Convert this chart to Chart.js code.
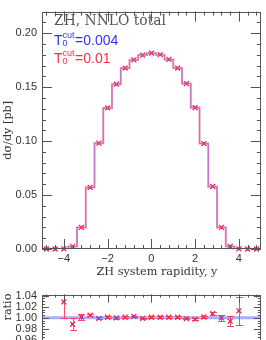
<!DOCTYPE html>
<html>
<head>
<meta charset="utf-8">
<script src="https://cdn.jsdelivr.net/npm/chart.js@4.4.1/dist/chart.umd.min.js"></script>
<style>
  html, body { margin: 0; padding: 0; background: #fff; width: 266px; height: 340px; overflow: hidden; }
  canvas { position: absolute; left: 0; }
  #main { top: 0; }
  #ratio { top: 283px; }
</style>
</head>
<body>
<canvas id="main" width="266" height="284"></canvas>
<canvas id="ratio" width="266" height="90"></canvas>
<script>
// bin centres in y (bin width 0.4)
const yCenters = [-4.8, -4.4, -4.0, -3.6, -3.2, -2.8, -2.4, -2.0, -1.6, -1.2, -0.8, -0.4, 0.0,
                  0.4, 0.8, 1.2, 1.6, 2.0, 2.4, 2.8, 3.2, 3.6, 4.0, 4.4, 4.8];

// dsigma/dy [pb], Tcut = 0.004 (blue) and Tcut = 0.01 (red)
const xsT004 = [0, 0, 0.0002, 0.0023, 0.0200, 0.0569, 0.0982, 0.1306, 0.1527, 0.1675, 0.1749, 0.1799, 0.1814,
                0.1799, 0.1755, 0.1675, 0.1534, 0.1312, 0.0976, 0.0575, 0.0200, 0.0023, 0.0002, 0, 0];
const xsT01  = [0, 0, 0.0002, 0.0024, 0.0200, 0.0572, 0.0981, 0.1307, 0.1527, 0.1677, 0.1753, 0.1797, 0.1816,
                0.1801, 0.1757, 0.1677, 0.1532, 0.1309, 0.0977, 0.0579, 0.0200, 0.0023, 0.0002, 0, 0];

// ratio Tcut=0.01 / Tcut=0.004 and its error
const ratioVals = [null, null, 1.0287, 0.9885, 1.0015, 1.005, 0.999, 1.001, 1.000, 1.001, 1.0025, 0.999, 1.001,
                   1.001, 1.001, 1.001, 0.9985, 0.9975, 1.0015, 1.0075, 1.000, 0.994, 1.0127, null, null];
const ratioErr  = [0, 0, 0.029, 0.011, 0.005, 0.0022, 0.0018, 0.0015, 0.0015, 0.0015, 0.0015, 0.0015, 0.0015,
                   0.0015, 0.0015, 0.0015, 0.0015, 0.0015, 0.0018, 0.003, 0.0055, 0.0088, 0.025, 0, 0];

// tick labels
const xTickVals = [-4, -2, 0, 2, 4];
const yTickVals = [0, 0.05, 0.10, 0.15, 0.20];
const ratioTickVals = [0.96, 0.98, 1.00, 1.02, 1.04];

const FRAME = '#555';
const TICKFONT = { family: 'Liberation Sans', size: 11 };

function range(a, b, step) {
  const out = [];
  for (let v = a; v <= b + 1e-9; v += step) out.push(Math.round(v * 1e4) / 1e4);
  return out;
}

function histPoints(vals) {
  const hw = (yCenters[1] - yCenters[0]) / 2;
  const pts = yCenters.map((c, i) => ({ x: c - hw, y: vals[i] }));
  pts.push({ x: yCenters[yCenters.length - 1] + hw, y: vals[vals.length - 1] });
  return pts;
}

// frame + inward tick marks, drawn through the chart's own scales
function framePlugin(cfg) {
  return {
    id: 'frame',
    afterDatasetsDraw(chart) {
      const { ctx, chartArea: a, scales: { x, y } } = chart;
      ctx.save();
      ctx.strokeStyle = FRAME;
      ctx.lineWidth = 1;
      ctx.beginPath();
      const vx = (v, len) => {
        const p = Math.round(x.getPixelForValue(v)) + 0.5;
        ctx.moveTo(p, a.bottom); ctx.lineTo(p, a.bottom - len);
        ctx.moveTo(p, a.top); ctx.lineTo(p, a.top + len);
      };
      const vy = (v, len) => {
        const p = Math.round(y.getPixelForValue(v)) + 0.5;
        ctx.moveTo(a.left, p); ctx.lineTo(a.left + len, p);
        ctx.moveTo(a.right, p); ctx.lineTo(a.right - len, p);
      };
      cfg.xMinor.forEach(v => vx(v, cfg.minLen));
      cfg.xMajor.forEach(v => vx(v, cfg.majLenX));
      cfg.yMinor.forEach(v => vy(v, cfg.minLen));
      cfg.yMajor.forEach(v => vy(v, cfg.majLenY));
      ctx.stroke();
      ctx.strokeRect(Math.round(a.left) + 0.5, Math.round(a.top) + 0.5,
                     Math.round(a.right - a.left) - 1, Math.round(a.bottom - a.top) - 1);
      ctx.restore();
    }
  };
}

function fitSize(ctx, text, family, width) {
  ctx.font = '20px "' + family + '"';
  return 20 * width / ctx.measureText(text).width;
}

function drawTcut(ctx, x, y, color, val) {
  ctx.fillStyle = color;
  ctx.textAlign = 'left';
  ctx.textBaseline = 'alphabetic';
  ctx.font = '14px "Liberation Sans"';
  ctx.fillText('T', x, y);
  const w = ctx.measureText('T').width;
  ctx.font = '9px "Liberation Sans"';
  ctx.fillText('cut', x + w, y - 6.5);
  ctx.fillText('0', x + w, y + 1);
  const w2 = ctx.measureText('cut').width;
  ctx.font = '14px "Liberation Sans"';
  ctx.fillText('=' + val, x + w + w2 + 0.5, y);
}

const textPlugin = {
  id: 'texts',
  afterDraw(chart) {
    const { ctx, chartArea: a } = chart;
    ctx.save();
    // title
    ctx.fillStyle = '#555';
    ctx.textAlign = 'left';
    ctx.textBaseline = 'alphabetic';
    const t = 'ZH, NNLO total';
    ctx.font = fitSize(ctx, t, 'DejaVu Serif', 112).toFixed(2) + 'px "DejaVu Serif"';
    ctx.fillText(t, 54, 25);
    // legend
    drawTcut(ctx, 54, 44.5, '#3030ff', '0.004');
    drawTcut(ctx, 54, 62.5, '#ff3040', '0.01');
    // x title
    ctx.fillStyle = '#333';
    ctx.textAlign = 'center';
    const xt = 'ZH system rapidity, y';
    ctx.font = fitSize(ctx, xt, 'DejaVu Serif', 121).toFixed(2) + 'px "DejaVu Serif"';
    ctx.fillText(xt, 157, 275);
    // y title
    const yt = 'd\u03c3/dy [pb]';
    ctx.translate(11, (a.top + a.bottom) / 2);
    ctx.rotate(-Math.PI / 2);
    ctx.fillText(yt, 0, 0);
    ctx.restore();
  }
};

const ratioTextPlugin = {
  id: 'rtexts',
  afterDraw(chart) {
    const { ctx } = chart;
    ctx.save();
    ctx.fillStyle = '#333';
    ctx.textAlign = 'center';
    ctx.textBaseline = 'alphabetic';
    const xt = 'ZH system rapidity, y';
    ctx.font = fitSize(ctx, xt, 'DejaVu Serif', 121).toFixed(2) + 'px "DejaVu Serif"';
    ctx.translate(11, 307 - 283);
    ctx.rotate(-Math.PI / 2);
    ctx.fillText('ratio', 0, 0);
    ctx.restore();
  }
};

const errBarPlugin = {
  id: 'errbars',
  afterDatasetsDraw(chart) {
    const { ctx, chartArea: a, scales: { x, y } } = chart;
    ctx.save();
    ctx.beginPath();
    ctx.rect(a.left, a.top, a.right - a.left, a.bottom - a.top);
    ctx.clip();
    ctx.strokeStyle = 'rgba(255,45,70,0.85)';
    ctx.lineWidth = 1;
    ctx.beginPath();
    ratioVals.forEach((r, i) => {
      if (r === null) return;
      const px = Math.round(x.getPixelForValue(yCenters[i])) + 0.5;
      const y1 = Math.round(y.getPixelForValue(r - ratioErr[i])) + 0.5;
      const y2 = Math.round(y.getPixelForValue(r + ratioErr[i])) + 0.5;
      ctx.moveTo(px, y1); ctx.lineTo(px, y2);
      ctx.moveTo(px - 3.5, y1); ctx.lineTo(px + 3.5, y1);
      ctx.moveTo(px - 3.5, y2); ctx.lineTo(px + 3.5, y2);
    });
    ctx.stroke();
    ctx.restore();
  }
};

const fmtX = v => (v < 0 ? '\u2212' + Math.abs(v) : String(v));

const xMinor = range(-4.8, 4.8, 0.4);

new Chart(document.getElementById('main').getContext('2d'), {
  type: 'line',
  data: {
    datasets: [
      {
        data: histPoints(xsT004), stepped: true, borderColor: 'rgba(110,70,220,0.4)',
        borderWidth: 1.2, pointRadius: 0, fill: false
      },
      {
        data: histPoints(xsT01), stepped: true, borderColor: 'rgba(238,105,150,0.7)',
        borderWidth: 2, pointRadius: 0, fill: false
      },
      {
        data: yCenters.map((c, i) => ({ x: c, y: xsT01[i] })), showLine: false, clip: false,
        pointStyle: 'crossRot', pointRadius: 3.5, borderColor: '#f02050', borderWidth: 1.2,
        backgroundColor: '#f02050'
      },
      {
        data: yCenters.map((c, i) => ({ x: c, y: xsT01[i] })), showLine: false, clip: false,
        pointStyle: 'rect', pointRadius: 1.8, borderWidth: 0, backgroundColor: '#c0103c'
      }
    ]
  },
  options: {
    responsive: false,
    animation: false,
    devicePixelRatio: 1,
    layout: { padding: { top: 1, right: 2, left: 0, bottom: 0 } },
    plugins: { legend: { display: false }, tooltip: { enabled: false } },
    scales: {
      x: {
        type: 'linear', min: -5, max: 5,
        grid: { display: false, drawTicks: false }, border: { display: false },
        afterBuildTicks: s => { s.ticks = xTickVals.map(v => ({ value: v })); },
        afterFit: s => { s.height = 35; },
        ticks: { padding: 3, color: '#333', font: TICKFONT, maxRotation: 0, autoSkip: false, callback: fmtX }
      },
      y: {
        type: 'linear', min: 0, max: 0.22,
        grid: { display: false, drawTicks: false }, border: { display: false },
        afterBuildTicks: s => { s.ticks = yTickVals.map(v => ({ value: v })); },
        afterFit: s => { s.width = 42; },
        ticks: { padding: 5, color: '#333', font: TICKFONT, autoSkip: false, callback: v => v.toFixed(2) }
      }
    }
  },
  plugins: [
    framePlugin({ xMajor: xTickVals, xMinor: xMinor, yMajor: yTickVals, yMinor: range(0, 0.22, 0.01),
                  minLen: 4, majLenX: 10, majLenY: 10 }),
    textPlugin
  ]
});

new Chart(document.getElementById('ratio').getContext('2d'), {
  type: 'line',
  data: {
    datasets: [
      {
        data: [{ x: -5, y: 1 }, { x: 5, y: 1 }], borderColor: 'rgba(90,90,255,0.5)',
        borderWidth: 3, pointRadius: 0, fill: false
      },
      {
        data: yCenters.map((c, i) => ({ x: c, y: ratioVals[i] })), showLine: false,
        pointStyle: 'crossRot', pointRadius: 3.5, borderColor: '#f02050', borderWidth: 1.2,
        backgroundColor: '#f02050'
      },
      {
        data: yCenters.map((c, i) => ({ x: c, y: ratioVals[i] })), showLine: false,
        pointStyle: 'rect', pointRadius: 1.6, borderWidth: 0, backgroundColor: '#c0103c'
      }
    ]
  },
  options: {
    responsive: false,
    animation: false,
    devicePixelRatio: 1,
    layout: { padding: { top: 1, right: 2, left: 0, bottom: 0 } },
    plugins: { legend: { display: false }, tooltip: { enabled: false } },
    scales: {
      x: {
        type: 'linear', min: -5, max: 5,
        grid: { display: false, drawTicks: false }, border: { display: false },
        afterBuildTicks: s => { s.ticks = xTickVals.map(v => ({ value: v })); },
        afterFit: s => { s.height = 22; },
        ticks: { display: false }
      },
      y: {
        type: 'linear', min: 0.94, max: 1.042,
        grid: { display: false, drawTicks: false }, border: { display: false },
        afterBuildTicks: s => { s.ticks = ratioTickVals.map(v => ({ value: v })); },
        afterFit: s => { s.width = 42; },
        ticks: { padding: 5, color: '#333', font: TICKFONT, autoSkip: false, callback: v => v.toFixed(2) }
      }
    }
  },
  plugins: [
    errBarPlugin,
    framePlugin({ xMajor: xTickVals, xMinor: xMinor, yMajor: ratioTickVals, yMinor: range(0.94, 1.04, 0.005),
                  minLen: 3, majLenX: 8, majLenY: 7 }),
    ratioTextPlugin
  ]
});
</script>
</body>
</html>
